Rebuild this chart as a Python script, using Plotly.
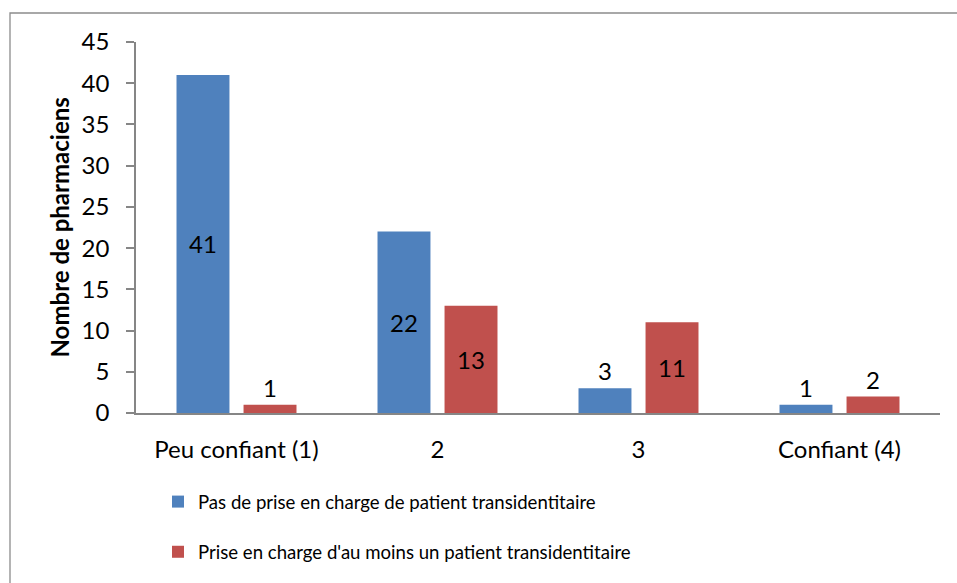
import plotly.graph_objects as go

categories = ["Peu confiant (1)", "2", "3", "Confiant (4)"]
series_names = ["Pas de prise en charge de patient transidentitaire",
                "Prise en charge d'au moins un patient transidentitaire"]
values_sans = [41, 22, 3, 1]
values_avec = [1, 13, 11, 2]
pos_sans = ["inside", "inside", "outside", "outside"]
pos_avec = ["outside", "inside", "inside", "outside"]
y_ticks = [0, 5, 10, 15, 20, 25, 30, 35, 40, 45]

FONT = "Lato"
FS_TICK = 24
FS_LABEL = 24
FS_LEG = 18.6
FS_TITLE = 24
W, H = 957, 583
ML, MR, MT, MB = 136, 17, 42, 170
pw = W - ML - MR
ph = H - MT - MB

def px_x(px):
    return (px - ML) / pw

def px_y(py):
    return (H - MB - py) / ph

fig = go.Figure()
fig.add_trace(go.Bar(
    x=categories, y=values_sans, name=series_names[0],
    marker=dict(color="#4F81BD", line=dict(width=0)),
    text=[str(v) for v in values_sans], textposition=pos_sans,
    insidetextanchor="middle", textfont=dict(color="black", size=FS_LABEL, family=FONT),
    cliponaxis=False, legendgroup="a",
))
fig.add_trace(go.Bar(
    x=categories, y=values_avec, name=series_names[1],
    marker=dict(color="#C0504D", line=dict(width=0)),
    text=[str(v) for v in values_avec], textposition=pos_avec,
    insidetextanchor="middle", textfont=dict(color="black", size=FS_LABEL, family=FONT),
    cliponaxis=False, legendgroup="b",
))

fig.update_layout(
    width=W, height=H,
    margin=dict(l=ML, r=MR, t=MT, b=MB, autoexpand=False),
    paper_bgcolor="white", plot_bgcolor="white",
    font=dict(family=FONT, size=FS_TICK, color="black"),
    barmode="group", bargap=0.333, bargroupgap=0.21,
    showlegend=True,
    legend=dict(
        x=px_x(158), y=px_y(483), xanchor="left", yanchor="top",
        orientation="v", traceorder="grouped", tracegroupgap=23,
        font=dict(family=FONT, size=FS_LEG, color="black"),
        bgcolor="rgba(0,0,0,0)",
    ),
    xaxis=dict(
        showline=True, linecolor="#868686", linewidth=1.5,
        ticks="", showgrid=False, zeroline=False,
        tickfont=dict(family=FONT, size=FS_TICK, color="black"),
        ticklabelstandoff=14,
    ),
    yaxis=dict(
        range=[0, 45], tickvals=y_ticks, ticktext=[str(v) for v in y_ticks],
        showline=True, linecolor="#868686", linewidth=1.5,
        ticks="outside", ticklen=8, tickcolor="#868686", tickwidth=1.5,
        showgrid=False, zeroline=False,
        tickfont=dict(family=FONT, size=FS_TICK, color="black"),
        ticklabelstandoff=12,
    ),
    annotations=[dict(
        text="<b>Nombre de pharmaciens</b>", textangle=-90,
        x=px_x(59), y=0.5, xref="paper", yref="paper",
        xanchor="center", yanchor="middle", showarrow=False,
        font=dict(family=FONT, size=FS_TITLE, color="black"),
    )],
    shapes=[dict(
        type="rect", xref="paper", yref="paper",
        x0=px_x(10), x1=px_x(990), y0=px_y(13), y1=px_y(620),
        line=dict(color="#8C8C8C", width=1.3), fillcolor="rgba(0,0,0,0)",
        layer="below",
    )],
)

fig.write_html("out.html", config={"displayModeBar": False},
               post_script="document.body.style.margin='0px';document.body.style.overflow='hidden';")
